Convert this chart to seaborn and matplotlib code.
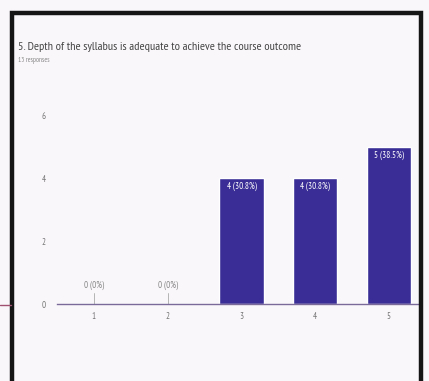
import matplotlib
matplotlib.use("Agg")
import matplotlib.pyplot as plt
import matplotlib.patches as patches
import matplotlib.lines as mlines
import seaborn as sns
import pandas as pd

# data
ratings = ["1", "2", "3", "4", "5"]
counts = [0, 0, 4, 4, 5]
labels = ["0 (0%)", "0 (0%)", "4 (30.8%)", "4 (30.8%)", "5 (38.5%)"]
yticks = [0, 2, 4, 6]
title = "5. Depth of the syllabus is adequate to achieve the course outcome"
subtitle = "13 responses"

df = pd.DataFrame({"rating": ratings, "count": counts})

sns.set_style("white")
plt.rcParams["font.family"] = ["PT Sans Narrow", "DejaVu Sans"]

bar_color = "#3a2e96"
bg = "#faf7fa"

fig = plt.figure(figsize=(4.29, 3.81), dpi=100, facecolor=bg)
ax = fig.add_axes([57 / 429, 77 / 381, (420 - 57) / 429, (304 - 100) / 381])
ax.set_facecolor(bg)

sns.barplot(data=df, x="rating", y="count", color=bar_color, width=0.6,
            saturation=1, ax=ax)

ax.set_xlim(-0.5, 4.42)
ax.set_ylim(0, 6.5)
ax.set_yticks(yticks)
ax.set_xlabel("")
ax.set_ylabel("")
for s in ["top", "right", "left"]:
    ax.spines[s].set_visible(False)
ax.spines["bottom"].set_color("#7a6a9a")
ax.spines["bottom"].set_linewidth(1.0)
ax.tick_params(axis="both", length=0, labelsize=6.5, labelcolor="#777777")
ax.tick_params(axis="x", pad=6)
ax.tick_params(axis="y", pad=8)

# value labels
for i, (c, lab) in enumerate(zip(counts, labels)):
    if c > 0:
        ax.text(i, c - 0.12, lab, ha="center", va="top", color="white", fontsize=6.5)
    else:
        ax.plot([i, i], [0, 0.35], color="#aaaaaa", lw=0.6)
        ax.text(i, 0.45, lab, ha="center", va="bottom", color="#888888", fontsize=6.5)

fig.text(18 / 429, 1 - 47 / 381, title, fontsize=8.7, color="#444444", va="center")
fig.text(18 / 429, 1 - 61 / 381, subtitle, fontsize=5, color="#888888", va="center")

# photo frame
frame = patches.Rectangle((12 / 429, -0.05), (421 - 12) / 429, 1.05 - 13 / 381,
                          transform=fig.transFigure, fill=False,
                          edgecolor="#151515", linewidth=3.2)
fig.patches.append(frame)
fig.lines.append(mlines.Line2D([0, 11 / 429], [1 - 305 / 381] * 2,
                               transform=fig.transFigure, color="#a05070", lw=1))

fig.savefig("out.png", dpi=100, facecolor=bg)
